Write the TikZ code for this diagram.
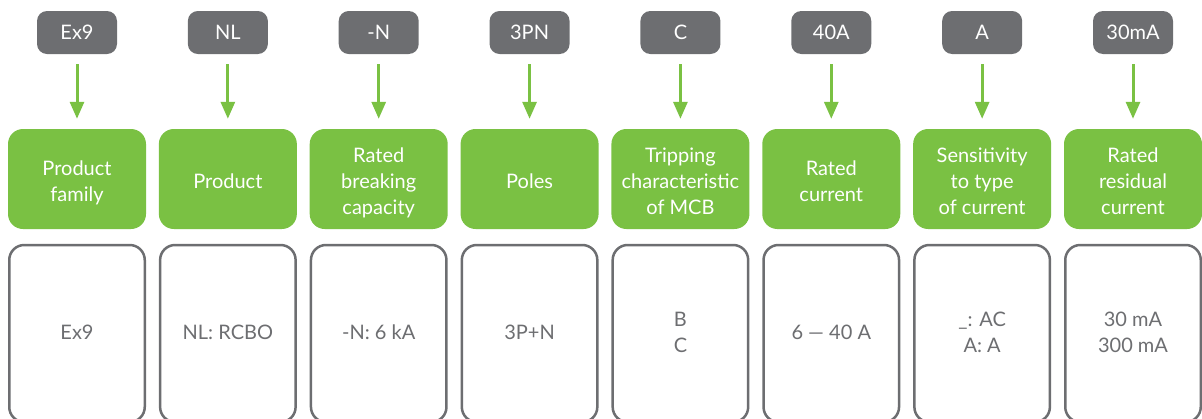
\documentclass[tikz,border=0pt]{standalone}
\usepackage{fontspec}
\setmainfont{Lato}
\usetikzlibrary{arrows.meta}
\definecolor{sgreen}{HTML}{7AC143}
\definecolor{sgray}{HTML}{6D6E71}
\newcommand\lowtext[2]{\raisebox{-#1}[\height][\depth]{\begin{tabular}{@{}c@{}}#2\end{tabular}}}
\tikzset{
  codebox/.style={fill=sgray, text=white, rounded corners=10pt, minimum width=80pt, minimum height=43pt, inner sep=0pt, font=\fontsize{20}{26}\selectfont},
  headbox/.style={fill=sgreen, text=white, rounded corners=15pt, minimum width=138pt, minimum height=100pt, inner sep=0pt, align=center, font=\fontsize{20}{26}\selectfont},
  valbox/.style={draw=sgray, line width=2.5pt, fill=white, text=sgray, rounded corners=15pt, minimum width=135.5pt, minimum height=177pt, inner sep=0pt, align=center, font=\fontsize{20}{26}\selectfont},
  flowarrow/.style={draw=sgreen, line width=3pt, -{Triangle[width=14pt,length=17pt]}, shorten <=10pt, shorten >=10pt}
}
\begin{document}
\begin{tikzpicture}[x=1pt,y=-1pt]
\useasboundingbox (0,0) rectangle (1202,418);
\clip (0,0) rectangle (1202,418);
\foreach \i/\code/\head/\val in {
  0/Ex9/{Product\\family}/Ex9,
  1/NL/{Product}/{NL: RCBO},
  2/-N/{Rated\\breaking\\capacity}/{-N: 6 kA},
  3/3PN/{Poles}/{3P+N},
  4/C/{Tripping\\characteristic\\of MCB}/{B\\C},
  5/40A/{Rated\\current}/{6 — 40 A},
  6/A/{Sensitivity\\to type\\of current}/{\_: AC\\A: A},
  7/30mA/{Rated\\residual\\current}/{30 mA\\300 mA}} {
  \pgfmathsetmacro{\cx}{77+150.857*\i}
  \node[codebox] (top\i) at (\cx,32.5) {\lowtext{1.5pt}{\code}};
  \node[headbox] (mid\i) at (\cx,179) {\lowtext{4pt}{\head}};
  \node[valbox] (bot\i) at (\cx,333.5) {\lowtext{1pt}{\val}};
  \draw[flowarrow] (top\i.south) -- (mid\i.north);
}
\end{tikzpicture}
\end{document}
